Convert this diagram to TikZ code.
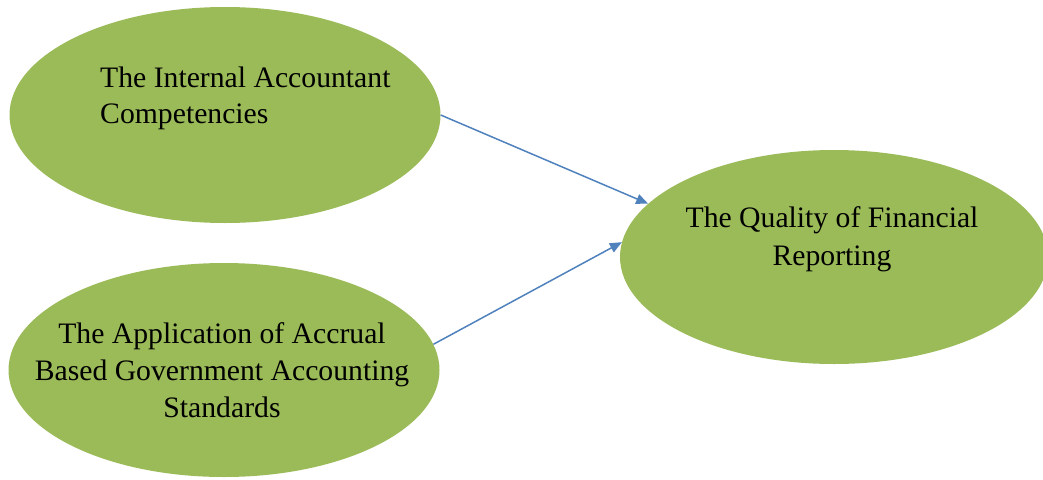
\documentclass[tikz,border=0pt]{standalone}
\usepackage{fontspec}
\setmainfont{Liberation Serif}
\usetikzlibrary{shapes.geometric,arrows.meta}
\definecolor{olivefill}{HTML}{9BBB59}
\definecolor{arrowblue}{HTML}{4F81BD}
\tikzset{
  bubble/.style={ellipse, fill=olivefill, draw=none, inner sep=0pt},
  lbl/.style={inner sep=0pt, font=\fontsize{29.7}{37}\selectfont, text=black},
  link/.style={draw=arrowblue, line width=1.5pt, -{Triangle[length=12pt,width=10pt]}}
}
\begin{document}
\begin{tikzpicture}[x=1pt,y=-1pt]
\useasboundingbox (0,0) rectangle (1043,479);
\node[bubble, minimum width=431pt, minimum height=216pt] (e1) at (225,115) {};
\node[bubble, minimum width=431pt, minimum height=214pt] (e2) at (224,370) {};
\node[bubble, minimum width=428pt, minimum height=214pt] (e3) at (834,257) {};
% texts
\node[lbl, anchor=base west] (t1a) at (100,87) {The Internal Accountant};
\node[lbl, anchor=base west] (t1b) at (100,123) {Competencies};
\node[lbl, anchor=base] (t2a) at (222,343) {The Application of Accrual};
\node[lbl, anchor=base] (t2b) at (222,380) {Based Government Accounting};
\node[lbl, anchor=base] (t2c) at (222,417) {Standards};
\node[lbl, anchor=base] (t3a) at (832,227) {The Quality of Financial};
\node[lbl, anchor=base] (t3b) at (832,265) {Reporting};
% connectors
\draw[link] (e1.east) -- (e3.164);
\draw[link] (e2.7) -- (e3.176);
\end{tikzpicture}
\end{document}
